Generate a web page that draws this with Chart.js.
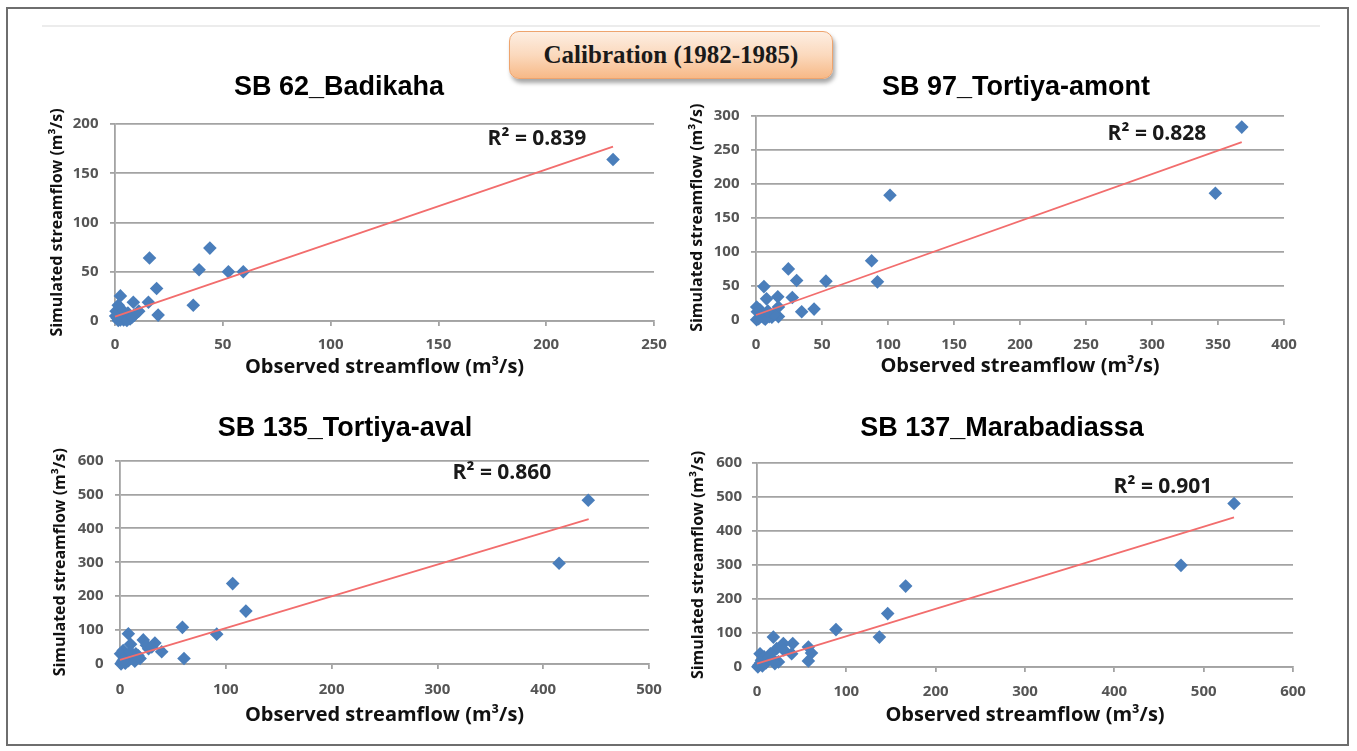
<!DOCTYPE html>
<html>
<head>
<meta charset="utf-8">
<script src="https://cdn.jsdelivr.net/npm/chart.js@4"></script>
<style>
  html, body { margin:0; padding:0; background:#fff; width:1357px; height:751px; overflow:hidden; }
  #frame { position:absolute; left:6px; top:7px; width:1343px; height:739px; border:2px solid #6e6e6e; box-sizing:border-box; }
  #rule { position:absolute; left:42px; top:25px; width:1278px; height:2px; background:#ececec; }
  #calib { position:absolute; left:509px; top:31px; width:324px; height:48px; box-sizing:border-box;
           border:1.5px solid #eea46e; border-radius:10px;
           background:linear-gradient(#fdeee2 0%, #fbd9bd 50%, #f7b987 100%);
           box-shadow:2px 4px 4px rgba(0,0,0,0.35);
           display:flex; align-items:center; justify-content:center;
           font-family:'Liberation Serif','DejaVu Serif',serif; font-weight:bold; font-size:25px; color:#1a1a1a; }
  .ttl { position:absolute; transform:translate(-50%,-50%); white-space:nowrap; line-height:1;
         font-family:'Liberation Sans',Arial,sans-serif; font-weight:bold; font-size:27px; color:#000; }
  .r2 { position:absolute; transform:translate(-50%,-50%); white-space:nowrap; line-height:1;
        font-family:'Open Sans',sans-serif; font-weight:bold; font-size:21px; color:#1a1a1a; }
  .box { position:absolute; }
  canvas { display:block; }
</style>
</head>
<body>
<div id="frame"></div>
<div id="rule"></div>
<div id="calib">Calibration (1982-1985)</div>

<div class="box" style="left:40px;top:100px;width:640px;height:280px"><canvas id="c1" width="640" height="280"></canvas></div>
<div class="box" style="left:680px;top:95px;width:630px;height:285px"><canvas id="c2" width="630" height="285"></canvas></div>
<div class="box" style="left:40px;top:440px;width:640px;height:300px"><canvas id="c3" width="640" height="300"></canvas></div>
<div class="box" style="left:680px;top:440px;width:640px;height:300px"><canvas id="c4" width="640" height="300"></canvas></div>

<div class="ttl" style="left:339px;top:86px">SB 62_Badikaha</div>
<div class="ttl" style="left:1016px;top:86px">SB 97_Tortiya-amont</div>
<div class="ttl" style="left:345px;top:427px">SB 135_Tortiya-aval</div>
<div class="ttl" style="left:1002px;top:427px">SB 137_Marabadiassa</div>

<div class="r2" id="r1" style="left:537px;top:137px"></div>
<div class="r2" id="r2" style="left:1157px;top:132px"></div>
<div class="r2" id="r3" style="left:502px;top:471px"></div>
<div class="r2" id="r4" style="left:1163px;top:485px"></div>

<script>
// ---------- DATA ----------
const subbasins = ['SB 62_Badikaha', 'SB 97_Tortiya-amont', 'SB 135_Tortiya-aval', 'SB 137_Marabadiassa'];
const r2Values = ['0.839', '0.828', '0.860', '0.901'];

const badikahaObs = [231, 44, 16, 39, 52.6, 59.5, 19.3, 15.5, 36.3, 20, 8.5, 2.5, 1.5, 0.5, 3, 1, 2, 4, 5, 6, 7, 9, 11, 1.5, 3.5, 0.3, 2.5, 5.5, 8];
const badikahaSim = [164, 74, 64, 52, 50, 50, 33, 19, 16, 6, 19, 25.5, 16, 10, 12, 3, 6, 1, 4, 8, 2, 6, 10, 0.5, 8, 5, 1, 0.5, 4];
const badikahaTrendX = [0, 231];
const badikahaTrendY = [4.4, 177];

const amontObs = [368, 348, 101.5, 87.6, 92, 53, 24.5, 30.8, 27.5, 16.5, 8, 6, 34.6, 44, 17, 0.5, 17, 2, 4, 6, 8, 10, 1, 3, 5, 12, 7, 0.5, 14, 9];
const amontSim = [283, 186, 183, 87, 56, 57, 75, 58, 33, 34, 31, 49, 12, 16, 5, 19, 19, 2, 6, 3, 10, 5, 12, 15, 9, 4, 1, 0.5, 8, 13];
const amontTrendX = [0, 368];
const amontTrendY = [7.3, 261];

const avalObs = [442.6, 415, 106.5, 119, 59, 91.4, 60.5, 7.9, 22, 33, 39.4, 10, 19, 27, 3, 0.5, 2, 4, 6, 8, 12, 15, 5, 10, 1, 3, 14, 17, 25, 30];
const avalSim = [483, 297, 237, 156, 108, 88, 16, 89, 71, 62, 36, 58, 16, 45, 40, 30, 5, 15, 25, 10, 20, 30, 2, 35, 0.5, 10, 8, 25, 55, 50];
const avalTrendX = [0, 443];
const avalTrendY = [12, 427];

const maraObs = [534, 474.6, 166.4, 146.3, 137, 88.4, 57.5, 61, 57.5, 40, 38.8, 29.5, 18.3, 22, 30, 24, 15, 3.4, 2, 5, 8, 10, 12, 1, 6, 18, 20, 4];
const maraSim = [481, 299, 238, 157, 88, 110, 59, 41, 18, 69, 39, 69, 88, 54, 50, 15, 39, 39, 5, 20, 30, 12, 25, 0.5, 3, 22, 10, 12];
const maraTrendX = [0, 534];
const maraTrendY = [10, 440];

const xLabel = 'Observed streamflow (m³/s)';
const yLabel = 'Simulated streamflow (m³/s)';

// ---------- helpers ----------
function pts(xs, ys) { return xs.map((x, i) => ({ x: x, y: ys[i] })); }

const gridCol = '#a3a3a3';
const tickFont = { family: 'Open Sans', size: 15, weight: 'bold' };
const tickCol = '#555555';

function build(cfg) {
  return new Chart(document.getElementById(cfg.id), {
    type: 'scatter',
    data: {
      datasets: [
        { data: pts(cfg.tx, cfg.ty), showLine: true, borderColor: '#f26d6d', borderWidth: 1.8,
          pointRadius: 0, fill: false, clip: false, order: 0 },
        { data: pts(cfg.ox, cfg.sy), pointStyle: 'rectRot', pointRadius: 6.8,
          backgroundColor: '#4a7ebb', borderColor: '#4a7ebb', borderWidth: 0, clip: false, order: 1 }
      ]
    },
    options: {
      responsive: false, animation: false, events: [],
      layout: { padding: { left: 0, top: cfg.pt, right: cfg.pr, bottom: 0 } },
      plugins: { legend: { display: false }, tooltip: { enabled: false }, title: { display: false } },
      scales: {
        x: {
          type: 'linear', min: 0, max: cfg.xMax,
          ticks: { stepSize: cfg.xStep, font: tickFont, color: tickCol, padding: cfg.xPad, maxRotation: 0 },
          grid: { drawOnChartArea: false, drawTicks: true, tickLength: 5, color: gridCol, lineWidth: 1.8 },
          border: { display: true, color: gridCol, width: 1.8 },
          title: { display: true, text: xLabel, color: '#111',
                   font: { family: 'Open Sans', size: 20, weight: 'bold' },
                   padding: { top: 0, bottom: cfg.xtPad } },
          afterFit(s) { s.height = cfg.xh; }
        },
        y: {
          type: 'linear', min: 0, max: cfg.yMax,
          ticks: { stepSize: cfg.yStep, font: tickFont, color: tickCol, padding: cfg.yPad },
          grid: { drawOnChartArea: true, drawTicks: true, tickLength: 5, color: gridCol, lineWidth: 1.8 },
          border: { display: true, color: gridCol, width: 1.8 },
          title: { display: true, text: yLabel, color: '#111',
                   font: { family: 'Open Sans', size: 16, weight: 'bold' },
                   padding: { top: cfg.ytPad, bottom: 0 } },
          afterFit(s) { s.width = cfg.yw; }
        }
      }
    }
  });
}

build({ id: 'c1', ox: badikahaObs, sy: badikahaSim, tx: badikahaTrendX, ty: badikahaTrendY,
        xMax: 250, xStep: 50, yMax: 200, yStep: 50,
        pt: 24, pr: 26, yw: 75, xh: 59, xPad: 10, yPad: 11.5, xtPad: 1, ytPad: 7.4 });
build({ id: 'c2', ox: amontObs, sy: amontSim, tx: amontTrendX, ty: amontTrendY,
        xMax: 400, xStep: 50, yMax: 300, yStep: 50,
        pt: 19, pr: 26, yw: 76, xh: 60, xPad: 10.5, yPad: 11.5, xtPad: 1.3, ytPad: 7.4 });
build({ id: 'c3', ox: avalObs, sy: avalSim, tx: avalTrendX, ty: avalTrendY,
        xMax: 500, xStep: 100, yMax: 600, yStep: 100,
        pt: 16, pr: 31, yw: 80, xh: 76, xPad: 12, yPad: 11.5, xtPad: 13, ytPad: 10.4 });
build({ id: 'c4', ox: maraObs, sy: maraSim, tx: maraTrendX, ty: maraTrendY,
        xMax: 600, xStep: 100, yMax: 600, yStep: 100,
        pt: 23, pr: 27, yw: 77, xh: 73, xPad: 10.7, yPad: 10, xtPad: 13, ytPad: 8.7 });

['r1', 'r2', 'r3', 'r4'].forEach((id, i) => {
  document.getElementById(id).textContent = 'R² = ' + r2Values[i];
});
</script>
</body>
</html>
